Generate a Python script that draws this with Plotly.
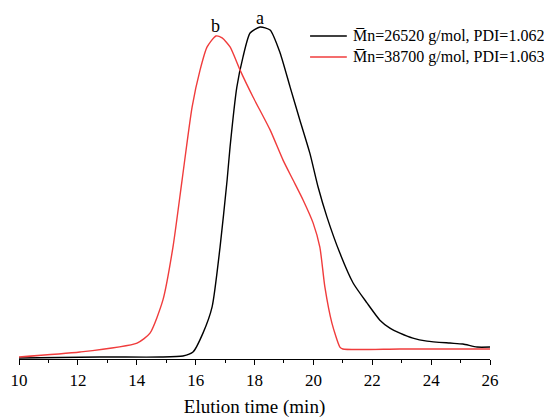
import plotly.graph_objects as go

# Elution time (min) and normalized detector signal
t_a = [10.00, 12.75, 14.79, 15.57, 15.91, 16.25, 16.56, 16.83, 17.07, 17.17, 17.40, 17.61, 17.85,
       18.19, 18.53, 18.87, 19.21, 19.54, 19.88, 20.16, 20.46, 20.90, 21.35, 21.82, 22.26, 22.60,
       22.94, 23.38, 23.86, 24.64, 25.08, 25.56, 26.00]
s_a = [0.003, 0.006, 0.006, 0.009, 0.021, 0.078, 0.157, 0.337, 0.539, 0.639, 0.819, 0.910, 0.982,
       1.000, 0.991, 0.922, 0.819, 0.720, 0.620, 0.518, 0.428, 0.319, 0.229, 0.169, 0.117, 0.093,
       0.078, 0.063, 0.054, 0.048, 0.045, 0.036, 0.036]

t_b = [10.00, 12.07, 14.01, 14.45, 14.89, 15.23, 15.54, 15.88, 16.15, 16.39, 16.69, 16.90, 17.17,
       17.51, 17.95, 18.53, 18.97, 19.31, 19.65, 19.99, 20.22, 20.39, 20.63, 20.90, 21.00, 22.94, 26.00]
s_b = [0.006, 0.021, 0.048, 0.078, 0.178, 0.337, 0.539, 0.759, 0.870, 0.940, 0.973, 0.967, 0.940,
       0.870, 0.789, 0.690, 0.599, 0.539, 0.479, 0.410, 0.337, 0.217, 0.108, 0.036, 0.030, 0.030, 0.030]

name_a = "M\u0305n=26520 g/mol, PDI=1.062"
name_b = "M\u0305n=38700 g/mol, PDI=1.063"
x_ticks = [10, 12, 14, 16, 18, 20, 22, 24, 26]

FONT = "Liberation Serif, Times New Roman, serif"
COL_A = "black"
COL_B = "#F03C3C"

fig = go.Figure()
fig.add_trace(go.Scatter(x=t_a, y=s_a, mode="lines", name=name_a,
                         line=dict(color=COL_A, width=1.4, shape="spline", smoothing=0.6)))
fig.add_trace(go.Scatter(x=t_b, y=s_b, mode="lines", name=name_b,
                         line=dict(color=COL_B, width=1.4, shape="spline", smoothing=0.6)))

fig.add_annotation(x=18.19, y=1.0, text="a", showarrow=False, yshift=9,
                   font=dict(family=FONT, size=18, color="black"))
fig.add_annotation(x=16.69, y=0.973, text="b", showarrow=False, yshift=10,
                   font=dict(family=FONT, size=18, color="black"))

# legend drawn by hand (line sample + text) so it can sit at the right edge
for name, col, ly in [(name_a, COL_A, 0.9255), (name_b, COL_B, 0.8653)]:
    fig.add_shape(type="line", xref="paper", yref="paper", x0=0.618, x1=0.696, y0=ly, y1=ly,
                  line=dict(color=col, width=1.4))
    fig.add_annotation(xref="paper", yref="paper", x=0.705, y=ly, xanchor="left", yanchor="middle",
                       text=name, showarrow=False, font=dict(family=FONT, size=16, color="black"))

fig.update_layout(
    width=544, height=418,
    margin=dict(l=19, r=54, t=10, b=59),
    paper_bgcolor="white", plot_bgcolor="white",
    font=dict(family=FONT, size=16, color="black"),
    showlegend=False,
    xaxis=dict(range=[10, 26], tickvals=x_ticks, ticktext=[str(v) for v in x_ticks],
               showgrid=False, zeroline=False, showline=True, linecolor="black", linewidth=1.2,
               ticks="outside", ticklen=5, tickwidth=1.2, tickcolor="black",
               minor=dict(dtick=1, ticks="outside", ticklen=3, tickwidth=1, tickcolor="black"),
               tickfont=dict(family=FONT, size=17), ticklabelstandoff=0, automargin=False,
               title=dict(text="Elution time (min)", font=dict(family=FONT, size=19), standoff=11)),
    yaxis=dict(range=[0, 349/332], visible=False, showgrid=False, zeroline=False, automargin=False),
)

# remove the browser's default 8px page margin so the figure fills the window exactly
fig.write_html("out.html", config={"displayModeBar": False},
               post_script="document.body.style.margin='0';")
